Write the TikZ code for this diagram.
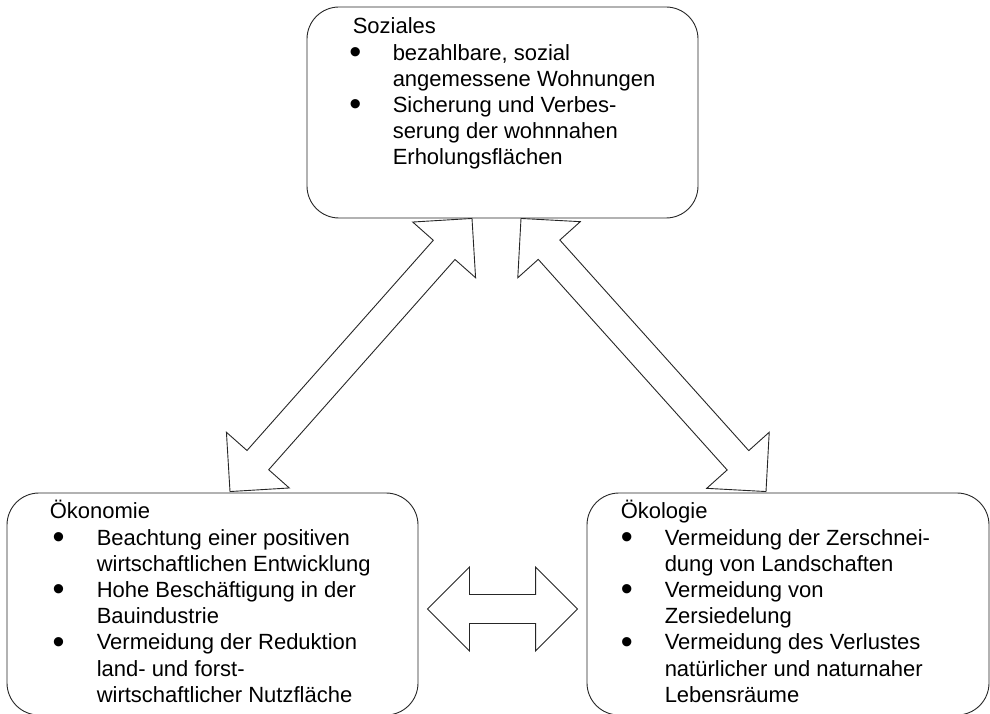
\documentclass[tikz,border=0pt]{standalone}
\usepackage{fontspec}
\setmainfont{Liberation Sans}
\usetikzlibrary{calc}

% enlarged bullet set in a fixed-width column, shifted by #1
\newcommand{\bul}[2]{\makebox[#2][l]{\hspace*{#1}\raisebox{-3.4pt}{\scalebox{1.55}{\textbullet}}}}

% hollow double-headed block arrow between two points
\newcommand{\blockarrow}[2]{%
  \draw[blockarr] (#1)
    -- ($(#1)!42pt!(#2)!42pt!90:(#2)$)
    -- ($(#1)!42pt!(#2)!14.5pt!90:(#2)$)
    -- ($(#2)!42pt!(#1)!14.5pt!-90:(#1)$)
    -- ($(#2)!42pt!(#1)!42pt!-90:(#1)$)
    -- (#2)
    -- ($(#2)!42pt!(#1)!42pt!90:(#1)$)
    -- ($(#2)!42pt!(#1)!14.5pt!90:(#1)$)
    -- ($(#1)!42pt!(#2)!14.5pt!-90:(#2)$)
    -- ($(#1)!42pt!(#2)!42pt!-90:(#2)$)
    -- cycle;}

\tikzset{
  pillar/.style={draw=black!85, line width=0.9pt, rounded corners=32pt,
                 fill=white, inner sep=0pt},
  blockarr/.style={draw=black!85, line width=0.9pt, fill=white, line join=miter},
  listtext/.style={anchor=base west, inner sep=0pt,
                   font=\fontsize{22}{26.2}\selectfont}
}

\begin{document}
\begin{tikzpicture}[x=1pt,y=1pt]
\clip (0,0) rectangle (990,-714);

% the three pillars
\node[pillar, minimum width=391pt, minimum height=211pt] (soz) at (502.5,-112.5) {};
\node[pillar, minimum width=411pt, minimum height=222pt] (oko) at (212.5,-604) {};
\node[pillar, minimum width=402pt, minimum height=222pt] (okl) at (788,-604) {};

% contents
\node[listtext] (sozt) at ($(soz.north west)+(46,-27.3)$) {%
\begin{tabular}[t]{@{}l@{}l@{}}
\multicolumn{2}{@{}l@{}}{Soziales}\\
\bul{-3.5pt}{40pt} & bezahlbare, sozial\\
 & angemessene Wohnungen\\
\bul{-3.5pt}{40pt} & Sicherung und Verbes-\\
 & serung der wohnnahen\\
 & Erholungsflächen
\end{tabular}};

\node[listtext] (okot) at ($(oko.north west)+(43,-26.3)$) {%
\begin{tabular}[t]{@{}l@{}l@{}}
\multicolumn{2}{@{}l@{}}{Ökonomie}\\
\bul{2.8pt}{47pt} & Beachtung einer positiven\\
 & wirtschaftlichen Entwicklung\\
\bul{2.8pt}{47pt} & Hohe Beschäftigung in der\\
 & Bauindustrie\\
\bul{2.8pt}{47pt} & Vermeidung der Reduktion\\
 & land- und forst-\\
 & wirtschaftlicher Nutzfläche
\end{tabular}};

\node[listtext] (oklt) at ($(okl.north west)+(34,-26.3)$) {%
\begin{tabular}[t]{@{}l@{}l@{}}
\multicolumn{2}{@{}l@{}}{Ökologie}\\
\bul{0pt}{44pt} & Vermeidung der Zerschnei-\\
 & dung von Landschaften\\
\bul{0pt}{44pt} & Vermeidung von\\
 & Zersiedelung\\
\bul{0pt}{44pt} & Vermeidung des Verlustes\\
 & natürlicher und naturnaher\\
 & Lebensräume
\end{tabular}};

% arrow end points
\coordinate (a1) at ($(soz.south)+(-30.5,0)$);
\coordinate (a2) at ($(oko.north)+(17.5,1)$);
\coordinate (b1) at ($(soz.south)+(18.5,0)$);
\coordinate (b2) at ($(okl.north)+(-22,1)$);
\coordinate (c1) at ($(oko.east)+(9,-5)$);
\coordinate (c2) at ($(okl.west)+(-9,-5)$);

\blockarrow{a1}{a2}
\blockarrow{b1}{b2}
\blockarrow{c1}{c2}
\end{tikzpicture}
\end{document}
